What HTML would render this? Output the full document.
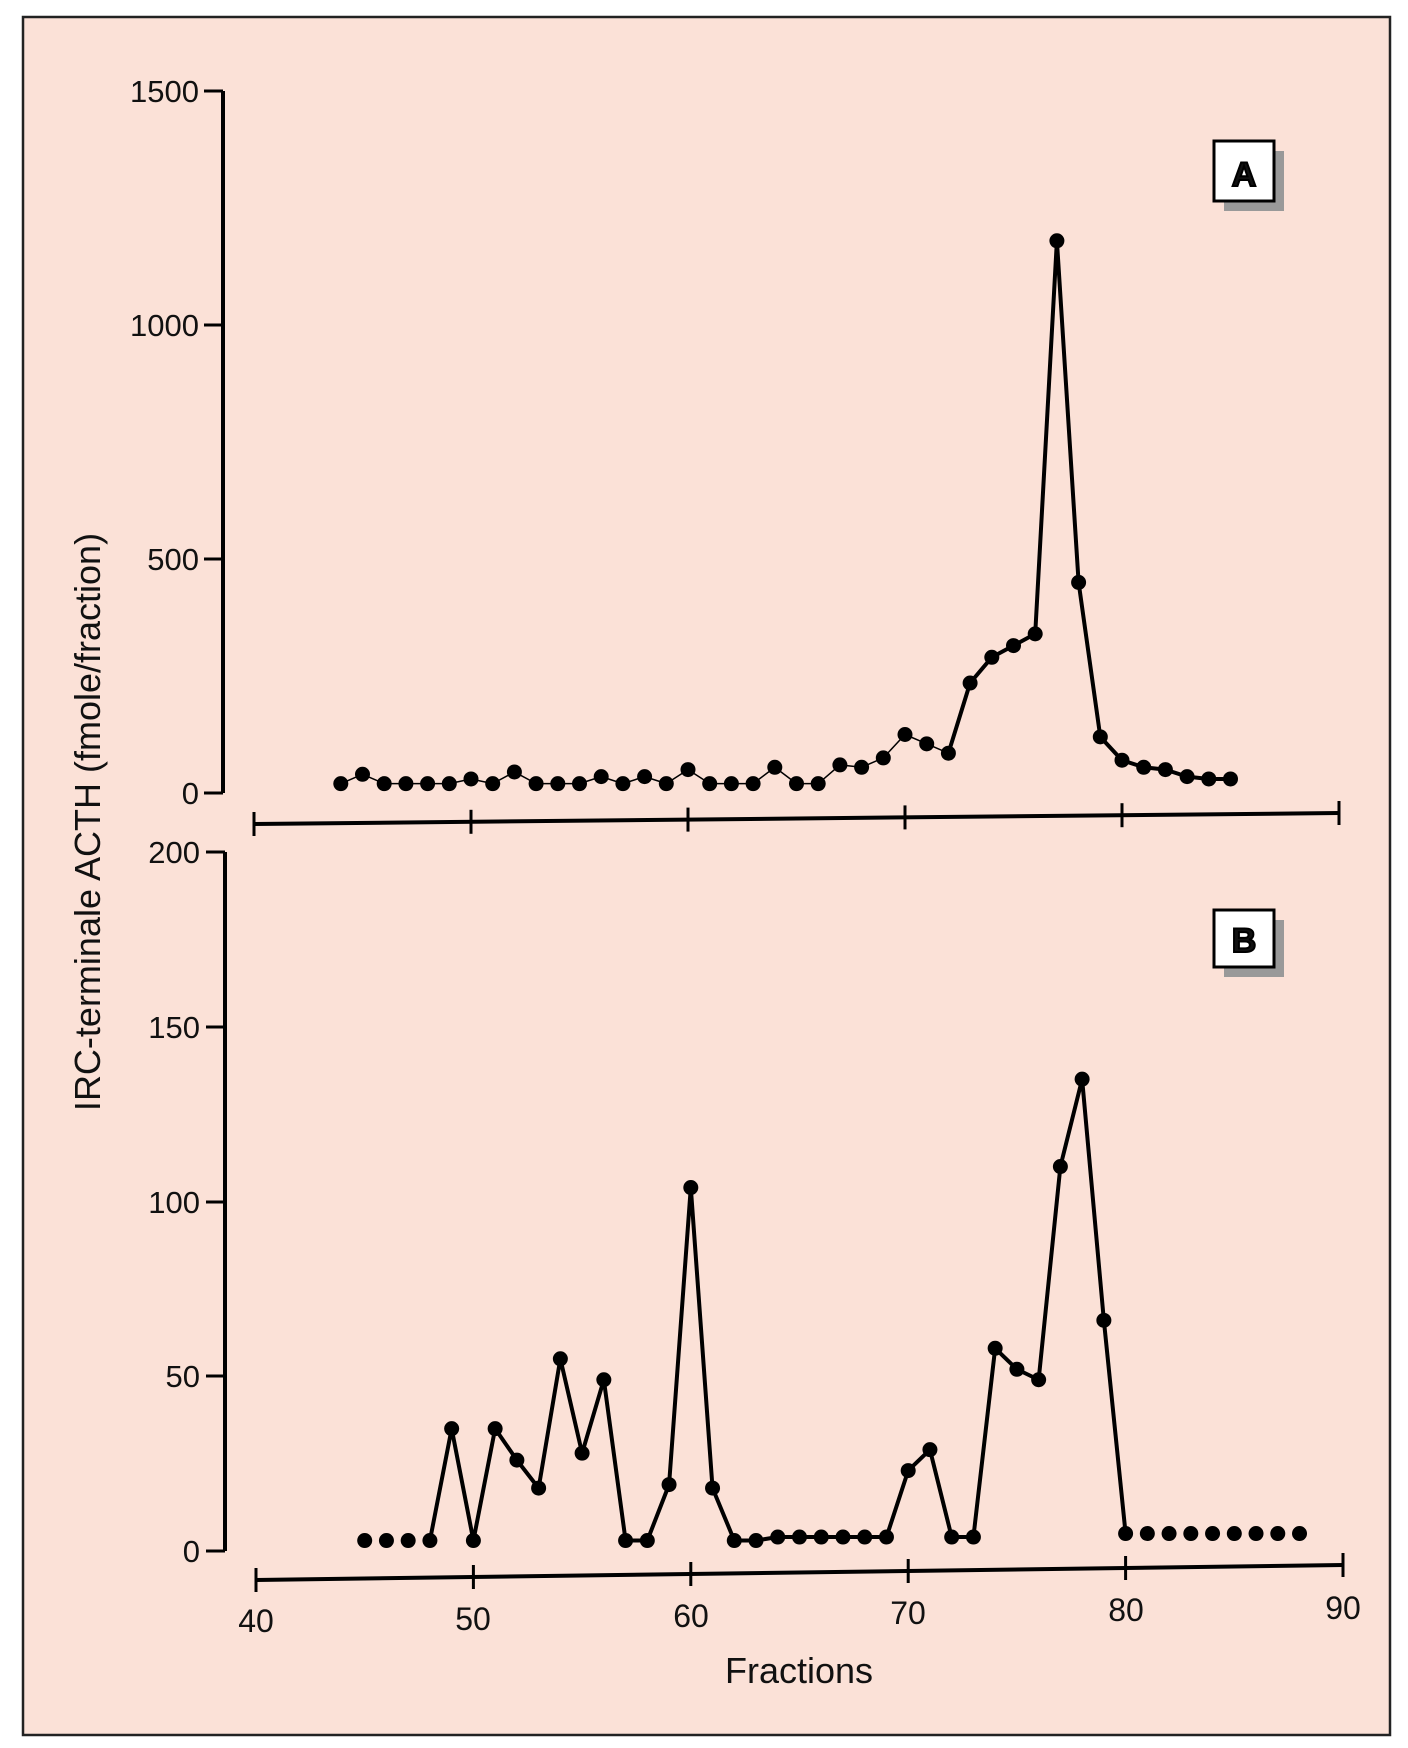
<!DOCTYPE html>
<html><head><meta charset="utf-8"><style>
html,body{margin:0;padding:0;background:#fff}
svg{display:block}
text{font-family:"Liberation Sans",sans-serif;fill:#111}
</style></head><body>
<svg id="s" width="1408" height="1748" viewBox="0 0 1408 1748" xmlns="http://www.w3.org/2000/svg">
<rect x="0" y="0" width="1408" height="1748" fill="#fff"/>
<rect x="23" y="17" width="1367" height="1718" fill="#fbe1d7" stroke="#222" stroke-width="2.5"/>
<g stroke="#000" stroke-width="4" fill="none">
<line x1="223" y1="91" x2="223" y2="793"/>
<line x1="225" y1="852" x2="225" y2="1551"/>
<line x1="254" y1="824" x2="1339" y2="813"/>
<line x1="256" y1="1580" x2="1343" y2="1565"/>
</g>
<g id="ticks" stroke="#000" stroke-width="3"></g>
<g font-size="31" text-anchor="end">
<text x="199" y="102">1500</text>
<text x="199" y="336">1000</text>
<text x="199" y="570">500</text>
<text x="199" y="804">0</text>
<text x="200" y="863">200</text>
<text x="200" y="1038">150</text>
<text x="200" y="1213">100</text>
<text x="200" y="1387">50</text>
<text x="200" y="1562">0</text>
</g>
<g font-size="32" text-anchor="middle">
<text x="256" y="1632">40</text>
<text x="473" y="1630">50</text>
<text x="691" y="1627">60</text>
<text x="908" y="1624">70</text>
<text x="1126" y="1621">80</text>
<text x="1343" y="1619">90</text>
<text x="799" y="1683" font-size="36">Fractions</text>
<text x="0" y="0" font-size="36" transform="translate(100,822) rotate(-90)">IRC-terminale ACTH (fmole/fraction)</text>
</g>
<rect x="1224" y="151" width="60" height="60" fill="#999"/>
<rect x="1214" y="141" width="60" height="60" fill="#fff" stroke="#000" stroke-width="3"/>
<text x="1244" y="186" font-size="34" font-weight="bold" text-anchor="middle" stroke="#000" stroke-width="2">A</text>
<rect x="1224" y="920" width="60" height="57" fill="#999"/>
<rect x="1214" y="910" width="60" height="57" fill="#fff" stroke="#000" stroke-width="3"/>
<text x="1244" y="952" font-size="34" font-weight="bold" text-anchor="middle" stroke="#000" stroke-width="2">B</text>
<g id="d"></g>
</svg>
<script>
var NS="http://www.w3.org/2000/svg";
function el(p,n,a){var e=document.createElementNS(NS,n);for(var k in a)e.setAttribute(k,a[k]);p.appendChild(e);return e;}
var t=document.getElementById("ticks"),d=document.getElementById("d");
[91,325,559,793].forEach(function(y){el(t,"line",{x1:204,y1:y,x2:223,y2:y});});
[852,1027,1202,1376,1551].forEach(function(y){el(t,"line",{x1:206,y1:y,x2:225,y2:y});});
for(var i=0;i<=5;i++){var x=254+217*i,y=824-2.2*i;el(t,"line",{x1:x,y1:y-12,x2:x,y2:y+12});
 x=256+217.4*i;y=1580-3*i;el(t,"line",{x1:x,y1:y-12,x2:x,y2:y+12});}
var A={44:20,45:40,46:20,47:20,48:20,49:20,50:30,51:20,52:45,53:20,54:20,55:20,56:35,57:20,58:35,59:20,60:50,61:20,62:20,63:20,64:55,65:20,66:20,67:60,68:55,69:75,70:125,71:105,72:85,73:235,74:290,75:315,76:340,77:1180,78:450,79:120,80:70,81:55,82:50,83:35,84:30,85:30};
var B={45:3,46:3,47:3,48:3,49:35,50:3,51:35,52:26,53:18,54:55,55:28,56:49,57:3,58:3,59:19,60:104,61:18,62:3,63:3,64:4,65:4,66:4,67:4,68:4,69:4,70:23,71:29,72:4,73:4,74:58,75:52,76:49,77:110,78:135,79:66,80:5,81:5,82:5,83:5,84:5,85:5,86:5,87:5,88:5};
function ax(f){return 254+(f-40)*21.7;} function ay(v){return 793-v*0.468;}
function bx(f){return 256+(f-40)*21.74;} function by(v){return 1551-v*3.495;}
function line(pts,w){el(d,"polyline",{points:pts.map(function(p){return p.join(",")}).join(" "),fill:"none",stroke:"#000","stroke-width":w,"stroke-linejoin":"round"});}
var pa=[],pa2=[];for(var f=44;f<=85;f++){(f<=72?pa:pa2).push([ax(f),ay(A[f])]);}
pa2.unshift([ax(72),ay(85)]);
line(pa,1.5);line(pa2,4);
var pb=[];for(f=48;f<=80;f++)pb.push([bx(f),by(B[f])]);line(pb,4);
for(f in A)el(d,"circle",{cx:ax(+f),cy:ay(A[f]),r:7.5,fill:"#000"});
for(f in B)el(d,"circle",{cx:bx(+f),cy:by(B[f]),r:7.5,fill:"#000"});
</script>
</body></html>
